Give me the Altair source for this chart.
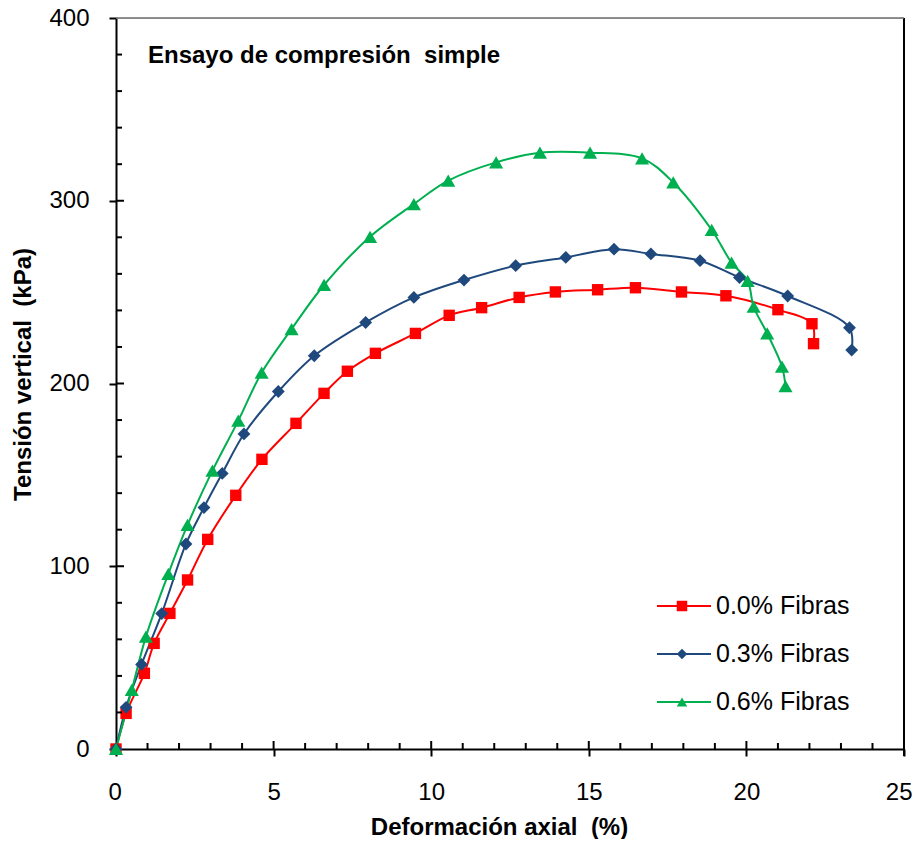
import altair as alt
import pandas as pd

# ---- data ----
series_names = ["0.0% Fibras", "0.3% Fibras", "0.6% Fibras"]
series_colors = ["#FF0000", "#1F497D", "#00B050"]
series_shapes = ["square", "diamond", "triangle-up"]
series_sizes = [130, 200, 270]

x_00 = [0, 0.32, 0.90, 1.21, 1.71, 2.27, 2.91, 3.80, 4.63, 5.71, 6.60, 7.34, 8.23, 9.50,
        10.57, 11.60, 12.79, 13.94, 15.28, 16.48, 17.94, 19.35, 21.00, 22.08, 22.13]
y_00 = [0, 19.5, 41.4, 57.8, 74.2, 92.5, 114.7, 138.8, 158.5, 178.2, 194.6, 206.7, 216.5, 227.4,
        237.3, 241.5, 247.1, 250.1, 251.3, 252.4, 250.1, 248.0, 240.4, 232.7, 221.8]

x_03 = [0, 0.32, 0.81, 1.45, 2.22, 2.79, 3.37, 4.06, 5.15, 6.29, 7.92, 9.45, 11.04, 12.68,
        14.27, 15.80, 16.97, 18.53, 19.78, 21.31, 23.27, 23.34]
y_03 = [0, 22.8, 46.3, 74.1, 112.2, 132.1, 150.8, 172.4, 195.6, 215.2, 233.4, 247.1, 256.6, 264.5,
        269.0, 273.5, 270.9, 267.2, 258.0, 247.9, 230.5, 218.3]

x_06 = [0, 0.50, 0.95, 1.66, 2.27, 3.06, 3.88, 4.62, 5.57, 6.60, 8.06, 9.45, 10.54, 12.06,
        13.45, 15.04, 16.69, 17.68, 18.90, 19.53, 20.04, 20.23, 20.66, 21.13, 21.24]
y_06 = [0, 32.3, 61.5, 95.8, 122.6, 152.3, 179.7, 205.9, 229.8, 253.9, 280.3, 298.2, 311.0, 321.0,
        326.3, 326.3, 323.2, 310.0, 284.0, 266.1, 256.1, 242.0, 227.4, 209.2, 198.6]

x_major = [0, 5, 10, 15, 20, 25]
y_major = [0, 100, 200, 300, 400]
x_minor = [v for v in range(1, 25) if v % 5 != 0]
y_minor = [v for v in range(20, 400, 20) if v % 100 != 0]
x_major_in = [5, 10, 15, 20]
y_major_in = [100, 200, 300]

chart_title = "Ensayo de compresión\u00a0 simple"
x_title = "Deformación axial\u00a0 (%)"
y_title = "Tensión vertical\u00a0 (kPa)"

FONT = "Liberation Sans"
W, H = 788, 731

rows = []
for name, xs, ys in zip(series_names, [x_00, x_03, x_06], [y_00, y_03, y_06]):
    for i, (xv, yv) in enumerate(zip(xs, ys)):
        rows.append({"serie": name, "i": i, "x": xv, "y": yv})
df = pd.DataFrame(rows)

xscale = alt.Scale(domain=[0, 25], nice=False, zero=False)
yscale = alt.Scale(domain=[0, 400], nice=False, zero=False)
cscale = alt.Scale(domain=series_names, range=series_colors)
sscale = alt.Scale(domain=series_names, range=series_shapes)
zscale = alt.Scale(domain=series_names, range=series_sizes)

xaxis = alt.Axis(values=x_major, tickSize=7, tickWidth=2, tickColor="black",
                 domainColor="black", domainWidth=2, grid=False,
                 labelFlush=True, labelFlushOffset=8,
                 labelFont=FONT, labelFontSize=24, labelColor="black", labelPadding=24,
                 title=x_title, titleFont=FONT, titleFontSize=24, titleFontWeight="bold",
                 titleColor="black", titleX=383, titleY=78, titleAlign="center",
                 titleBaseline="middle")
yaxis = alt.Axis(values=y_major, tickSize=7, tickWidth=2, tickColor="black",
                 domainColor="black", domainWidth=2, grid=False, labelFlush=False,
                 labelFont=FONT, labelFontSize=24, labelColor="black", labelPadding=20,
                 title=y_title, titleFont=FONT, titleFontSize=24, titleFontWeight="bold",
                 titleColor="black", titleX=-93, titleY=356, titleAngle=-90,
                 titleAlign="center", titleBaseline="middle")

base = alt.Chart(df)
lines = base.mark_line(interpolate="catmull-rom", strokeWidth=2).encode(
    x=alt.X("x:Q", scale=xscale, axis=xaxis),
    y=alt.Y("y:Q", scale=yscale, axis=yaxis),
    color=alt.Color("serie:N", scale=cscale, legend=None),
    detail="serie:N",
    order="i:Q",
)
points = base.mark_point(filled=True, opacity=1).encode(
    x=alt.X("x:Q", scale=xscale),
    y=alt.Y("y:Q", scale=yscale),
    color=alt.Color("serie:N", scale=cscale, legend=None),
    shape=alt.Shape("serie:N", scale=sscale, legend=None),
    size=alt.Size("serie:N", scale=zscale, legend=None),
)

# inward ticks
def xticks(vals, length):
    return alt.Chart(pd.DataFrame({"v": vals})).mark_rule(color="black", strokeWidth=2).encode(
        x=alt.X("v:Q", scale=xscale), y=alt.value(H), y2=alt.value(H - length))

def yticks(vals, length):
    return alt.Chart(pd.DataFrame({"v": vals})).mark_rule(color="black", strokeWidth=2).encode(
        y=alt.Y("v:Q", scale=yscale), x=alt.value(0), x2=alt.value(length))

tick_layers = [xticks(x_minor, 6), xticks(x_major_in, 8), yticks(y_minor, 6), yticks(y_major_in, 8)]

one = pd.DataFrame({"k": [0]})
right_border = alt.Chart(one).mark_rule(color="black", strokeWidth=2).encode(
    x=alt.value(W), y=alt.value(0), y2=alt.value(H + 7))
top_border = alt.Chart(one).mark_rule(color="#6b6b6b", strokeWidth=1.5).encode(
    x=alt.value(0), x2=alt.value(W), y=alt.value(0))

title_text = alt.Chart(pd.DataFrame({"t": [chart_title]})).mark_text(
    font=FONT, fontSize=24, fontWeight="bold", color="black", align="left", baseline="middle"
).encode(text="t:N", x=alt.value(32), y=alt.value(38))

# legend
legend_layers = []
row_y = [588, 636, 684]
for name, col, shp, yy in zip(series_names, series_colors, series_shapes, row_y):
    d = pd.DataFrame({"serie": [name]})
    c = alt.Chart(d)
    legend_layers.append(c.mark_rule(color=col, strokeWidth=2).encode(
        x=alt.value(541), x2=alt.value(595), y=alt.value(yy)))
    legend_layers.append(c.mark_point(filled=True, opacity=1, size=110, color=col, shape=shp).encode(
        x=alt.value(566), y=alt.value(yy)))
    legend_layers.append(c.mark_text(font=FONT, fontSize=25, color="black", align="left",
                                     baseline="middle").encode(
        text="serie:N", x=alt.value(600), y=alt.value(yy)))

chart = alt.layer(
    lines, points, *tick_layers, right_border, top_border, title_text, *legend_layers
).properties(
    width=W, height=H,
    autosize=alt.AutoSizeParams(type="none"),
    padding={"left": 108, "top": 10, "right": 9, "bottom": 90},
).configure_view(stroke=None).configure(background="white")

chart.save("out.html", embed_options={"renderer": "svg", "actions": False})
